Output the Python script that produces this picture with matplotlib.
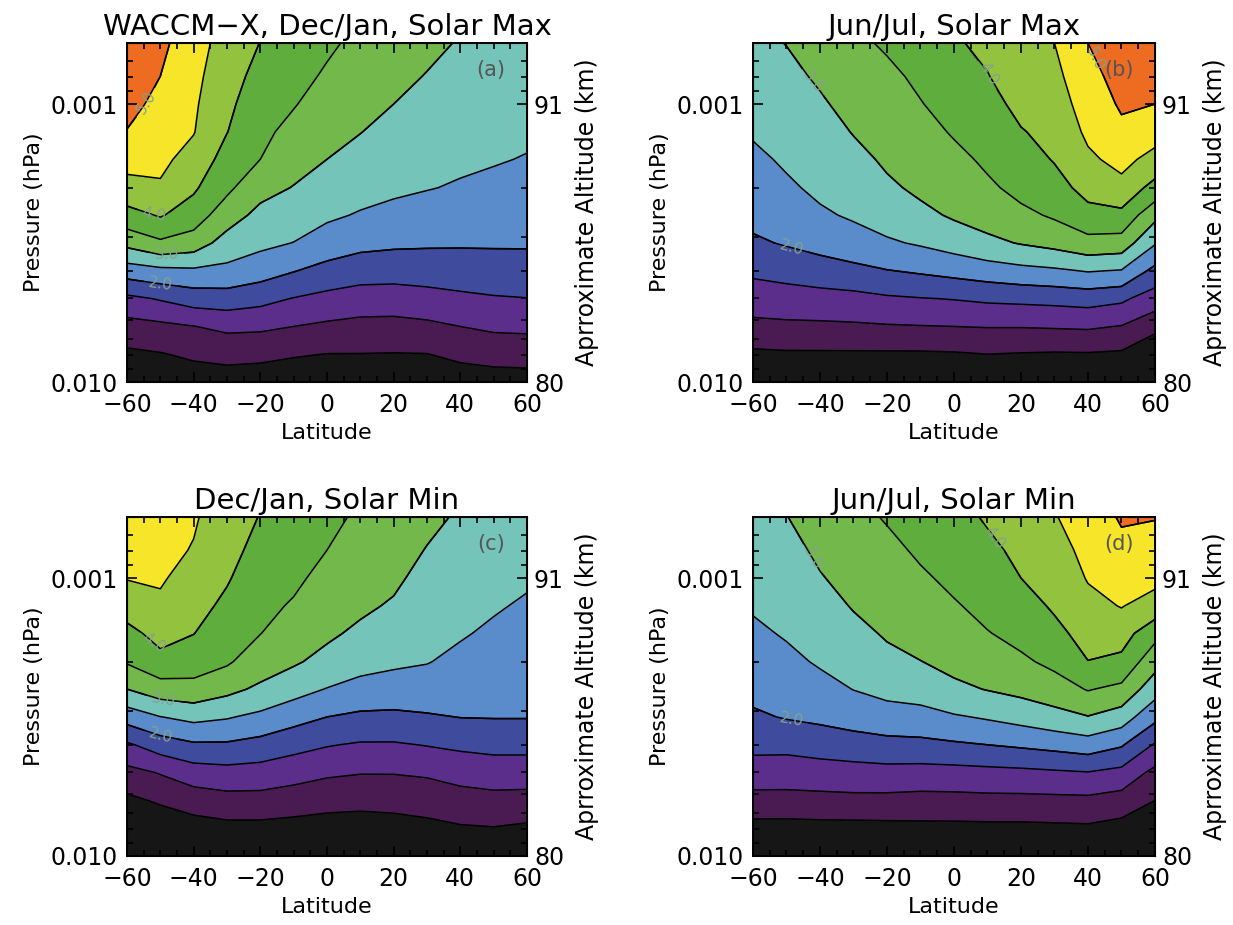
import numpy as np
import matplotlib.pyplot as plt
from matplotlib.ticker import FixedLocator, LogLocator, NullFormatter

# =============================================================================
# Grid (latitude in degrees, pressure in hPa; rows go from 0.01 hPa upward)
# =============================================================================

latitudes = [-60, -50, -40, -30, -20, -10, 0, 10, 20, 30, 40, 50, 60]

pressures = [0.0100, 0.00794, 0.00631, 0.00501, 0.00398, 0.00316, 0.00251,
             0.00200, 0.00158, 0.00126, 0.00100, 0.000794, 0.000603]

# =============================================================================
# Fields
# =============================================================================

dec_jan_max = [
    [0.00, 0.05, 0.19, 0.24, 0.19, 0.10, 0.06, 0.10, 0.10, 0.14, 0.22, 0.26, 0.28],
    [0.40, 0.47, 0.59, 0.65, 0.63, 0.55, 0.49, 0.49, 0.48, 0.49, 0.61, 0.68, 0.69],
    [0.80, 0.88, 0.99, 1.10, 1.08, 1.00, 0.91, 0.85, 0.84, 0.89, 1.00, 1.08, 1.10],
    [1.38, 1.54, 1.72, 1.76, 1.65, 1.48, 1.35, 1.26, 1.25, 1.32, 1.40, 1.46, 1.49],
    [2.23, 2.36, 2.41, 2.37, 2.21, 2.02, 1.84, 1.72, 1.70, 1.72, 1.75, 1.78, 1.79],
    [3.14, 3.41, 3.26, 2.79, 2.61, 2.49, 2.26, 2.13, 2.08, 2.06, 2.05, 2.05, 2.05],
    [3.82, 4.04, 3.75, 3.23, 2.86, 2.74, 2.58, 2.46, 2.37, 2.30, 2.26, 2.22, 2.19],
    [4.32, 4.44, 4.07, 3.60, 3.16, 2.98, 2.80, 2.66, 2.58, 2.52, 2.46, 2.40, 2.34],
    [4.68, 4.61, 4.32, 3.81, 3.50, 3.17, 3.00, 2.84, 2.72, 2.63, 2.57, 2.53, 2.48],
    [4.98, 4.74, 4.52, 4.01, 3.62, 3.35, 3.15, 3.01, 2.86, 2.75, 2.67, 2.61, 2.56],
    [5.15, 4.87, 4.57, 4.10, 3.73, 3.53, 3.29, 3.13, 3.00, 2.86, 2.76, 2.69, 2.63],
    [5.25, 5.00, 4.63, 4.19, 3.85, 3.65, 3.44, 3.26, 3.12, 2.98, 2.86, 2.77, 2.70],
    [5.30, 5.12, 4.70, 4.30, 3.99, 3.80, 3.57, 3.40, 3.25, 3.10, 2.97, 2.87, 2.78],
]

jun_jul_max = [
    [0.00, 0.00, 0.00, 0.00, 0.00, 0.00, 0.00, 0.00, 0.05, 0.07, 0.02, -0.10, -0.30],
    [0.40, 0.43, 0.43, 0.43, 0.43, 0.43, 0.45, 0.50, 0.47, 0.45, 0.46, 0.42, 0.00],
    [0.87, 0.90, 0.91, 0.93, 0.96, 0.98, 1.00, 1.02, 1.02, 1.04, 1.06, 0.98, 0.66],
    [1.24, 1.28, 1.31, 1.34, 1.43, 1.48, 1.52, 1.58, 1.61, 1.64, 1.69, 1.59, 1.25],
    [1.59, 1.67, 1.77, 1.87, 1.98, 2.06, 2.15, 2.25, 2.35, 2.42, 2.53, 2.47, 1.85],
    [1.93, 2.04, 2.16, 2.28, 2.44, 2.55, 2.70, 2.89, 3.03, 3.15, 3.33, 3.28, 2.54],
    [2.12, 2.23, 2.43, 2.56, 2.69, 2.88, 3.06, 3.19, 3.39, 3.56, 3.84, 3.87, 3.13],
    [2.27, 2.43, 2.59, 2.72, 2.92, 3.09, 3.23, 3.42, 3.63, 3.82, 4.16, 4.34, 3.83],
    [2.41, 2.56, 2.71, 2.87, 3.07, 3.21, 3.38, 3.58, 3.80, 4.03, 4.41, 4.65, 4.33],
    [2.54, 2.67, 2.82, 3.02, 3.18, 3.35, 3.54, 3.71, 3.97, 4.14, 4.59, 4.89, 4.70],
    [2.66, 2.77, 2.94, 3.15, 3.30, 3.48, 3.67, 3.85, 4.12, 4.26, 4.72, 5.06, 5.00],
    [2.77, 2.89, 3.06, 3.27, 3.41, 3.58, 3.80, 3.98, 4.26, 4.37, 4.85, 5.17, 5.12],
    [2.90, 3.01, 3.20, 3.42, 3.55, 3.70, 3.95, 4.10, 4.42, 4.50, 5.00, 5.30, 5.25],
]

dec_jan_min = [
    [-0.20, -0.10, 0.00, 0.05, 0.05, 0.00, 0.00, 0.00, 0.00, 0.00, 0.02, 0.05, 0.00],
    [-0.10, 0.10, 0.27, 0.35, 0.35, 0.31, 0.27, 0.25, 0.29, 0.36, 0.45, 0.48, 0.41],
    [0.38, 0.57, 0.73, 0.82, 0.82, 0.75, 0.67, 0.64, 0.66, 0.71, 0.80, 0.85, 0.83],
    [0.84, 1.03, 1.25, 1.32, 1.29, 1.18, 1.07, 1.02, 1.02, 1.06, 1.17, 1.23, 1.23],
    [1.43, 1.73, 1.93, 1.93, 1.82, 1.66, 1.53, 1.45, 1.45, 1.52, 1.59, 1.64, 1.64],
    [2.19, 2.49, 2.63, 2.54, 2.38, 2.17, 2.00, 1.90, 1.89, 1.95, 2.01, 2.02, 2.02],
    [3.00, 3.26, 3.33, 3.13, 2.91, 2.68, 2.48, 2.34, 2.28, 2.27, 2.20, 2.16, 2.13],
    [3.54, 3.85, 3.73, 3.56, 3.24, 3.06, 2.85, 2.66, 2.58, 2.52, 2.39, 2.30, 2.24],
    [3.86, 4.16, 4.01, 3.73, 3.51, 3.25, 3.08, 2.91, 2.76, 2.63, 2.54, 2.43, 2.34],
    [4.20, 4.41, 4.16, 3.90, 3.63, 3.45, 3.22, 3.08, 2.95, 2.75, 2.64, 2.54, 2.45],
    [4.52, 4.55, 4.32, 4.04, 3.74, 3.59, 3.36, 3.20, 3.08, 2.86, 2.74, 2.64, 2.55],
    [4.65, 4.64, 4.47, 4.14, 3.86, 3.71, 3.50, 3.31, 3.18, 2.98, 2.83, 2.74, 2.64],
    [4.80, 4.75, 4.55, 4.25, 3.98, 3.85, 3.58, 3.45, 3.30, 3.10, 2.95, 2.85, 2.75],
]

jun_jul_min = [
    [-0.20, -0.20, -0.15, -0.15, -0.15, -0.15, -0.15, -0.15, -0.15, -0.15, -0.05, -0.15, -0.25],
    [0.32, 0.31, 0.33, 0.33, 0.35, 0.37, 0.37, 0.38, 0.38, 0.40, 0.42, 0.32, 0.12],
    [0.82, 0.83, 0.85, 0.87, 0.86, 0.83, 0.84, 0.86, 0.86, 0.87, 0.88, 0.78, 0.50],
    [1.26, 1.24, 1.27, 1.30, 1.33, 1.31, 1.32, 1.35, 1.38, 1.43, 1.48, 1.35, 0.86],
    [1.63, 1.63, 1.71, 1.78, 1.84, 1.86, 1.93, 2.00, 2.07, 2.15, 2.25, 2.05, 1.45],
    [1.93, 2.03, 2.10, 2.20, 2.30, 2.34, 2.45, 2.55, 2.67, 2.82, 2.98, 2.75, 2.13],
    [2.12, 2.21, 2.34, 2.51, 2.63, 2.69, 2.90, 3.02, 3.13, 3.28, 3.53, 3.38, 2.70],
    [2.27, 2.39, 2.55, 2.69, 2.87, 2.99, 3.13, 3.25, 3.42, 3.61, 3.99, 3.87, 3.18],
    [2.42, 2.54, 2.69, 2.87, 3.05, 3.18, 3.30, 3.48, 3.63, 3.87, 4.18, 4.22, 3.65],
    [2.54, 2.65, 2.83, 3.03, 3.17, 3.31, 3.46, 3.62, 3.81, 4.06, 4.36, 4.52, 4.30],
    [2.66, 2.76, 2.97, 3.15, 3.29, 3.44, 3.59, 3.76, 4.00, 4.19, 4.53, 4.69, 4.62],
    [2.77, 2.86, 3.08, 3.26, 3.40, 3.56, 3.71, 3.89, 4.11, 4.32, 4.63, 4.87, 4.80],
    [2.90, 2.99, 3.20, 3.40, 3.53, 3.70, 3.85, 4.05, 4.25, 4.47, 4.75, 5.05, 5.02],
]

# =============================================================================
# Contour levels and colours
# =============================================================================

contour_levels = [0.5, 1.0, 1.5, 2.0, 2.5, 3.0, 3.5, 4.0, 4.5, 5.0]
labelled_levels = [2.0, 3.0, 4.0, 5.0]

band_colors = [
    "#161616",  # < 0.5
    "#4a1b52",
    "#5b2e8c",
    "#3f4c9e",
    "#5a8ccc",
    "#74c4ba",
    "#72b84a",
    "#5fad3d",
    "#93c33e",
    "#f7e529",
    "#ee6b22",  # > 5.0
]

panels = [
    # field, title, tag, axes rect, label positions (lat, p)
    (dec_jan_max, "WACCM\u2212X, Dec/Jan, Solar Max", "(a)",
     [0.1030, 0.5870, 0.3244, 0.3665],
     [(-52, 0.00102), (-52, 0.00251), (-48, 0.00358), (-50, 0.00459)]),
    (jun_jul_max, "Jun/Jul, Solar Max", "(b)",
     [0.6107, 0.5870, 0.3260, 0.3665],
     [(-43, 0.00085), (9, 0.00079), (41, 0.00070), (-49, 0.00349)]),
    (dec_jan_min, "Dec/Jan, Solar Min", "(c)",
     [0.1030, 0.0746, 0.3244, 0.3665],
     [(-52, 0.00171), (-49, 0.00275), (-50, 0.0037)]),
    (jun_jul_min, "Jun/Jul, Solar Min", "(d)",
     [0.6107, 0.0746, 0.3260, 0.3665],
     [(-43, 0.00086), (11, 0.00073), (-49, 0.0035)]),
]

# =============================================================================
# Visualization
# =============================================================================

plt.rcParams["font.family"] = "DejaVu Sans"

fig = plt.figure(figsize=(12.33, 9.25), dpi=100)

for field, title, tag, rect, label_spots in panels:
    ax = fig.add_axes(rect)
    values = np.array(field)

    ax.set_yscale("log")
    ax.set_xlim(-60, 60)
    ax.set_ylim(0.01, 0.000603)

    ax.contourf(latitudes, pressures, values, levels=contour_levels,
                colors=band_colors, extend="both")
    ax.contour(latitudes, pressures, values, levels=contour_levels,
               colors="black", linewidths=1.1)
    cs_lab = ax.contour(latitudes, pressures, values, levels=labelled_levels,
                        colors="black", linewidths=1.1)
    ax.clabel(cs_lab, manual=label_spots, inline=True, fmt="%.1f",
              fontsize=11, colors="#86a08e")

    ax.set_xlim(-60, 60)
    ax.set_ylim(0.01, 0.000603)

    ax.xaxis.set_major_locator(FixedLocator([-60, -40, -20, 0, 20, 40, 60]))
    ax.xaxis.set_minor_locator(FixedLocator(np.arange(-60, 61, 5)))
    ax.set_yticks([0.001, 0.01], labels=["0.001", "0.010"])
    ax.yaxis.set_minor_locator(LogLocator(base=10, subs=np.arange(2, 10)))
    ax.yaxis.set_minor_formatter(NullFormatter())

    ax.tick_params(which="both", direction="in", top=True, right=False,
                   labelsize=17, width=1.2)
    ax.tick_params(which="major", length=7)
    ax.tick_params(which="minor", length=4)
    ax.tick_params(axis="x", pad=8)
    ax.tick_params(axis="y", pad=7)

    ax.set_xlabel("Latitude", fontsize=16, labelpad=4)
    ax.set_ylabel("Pressure (hPa)", fontsize=16, labelpad=4)
    ax.set_title(title, fontsize=21, pad=6)

    ax.text(0.91, 0.92, tag, transform=ax.transAxes, fontsize=15,
            color="#555555", ha="center", va="center")

    for spine in ax.spines.values():
        spine.set_linewidth(1.4)

    ax_right = ax.twinx()
    ax_right.set_yscale("log")
    ax_right.set_ylim(0.01, 0.000603)
    ax_right.set_yticks([0.001, 0.01], labels=["91", "80"])
    ax_right.yaxis.set_minor_locator(LogLocator(base=10, subs=np.arange(2, 10)))
    ax_right.yaxis.set_minor_formatter(NullFormatter())
    ax_right.tick_params(which="both", direction="in", labelsize=17,
                         width=1.2, pad=5)
    ax_right.tick_params(which="major", length=7)
    ax_right.tick_params(which="minor", length=4)
    ax_right.set_ylabel("Aprroximate Altitude (km)", fontsize=17, labelpad=8)

fig.savefig("out.png", dpi=100)
